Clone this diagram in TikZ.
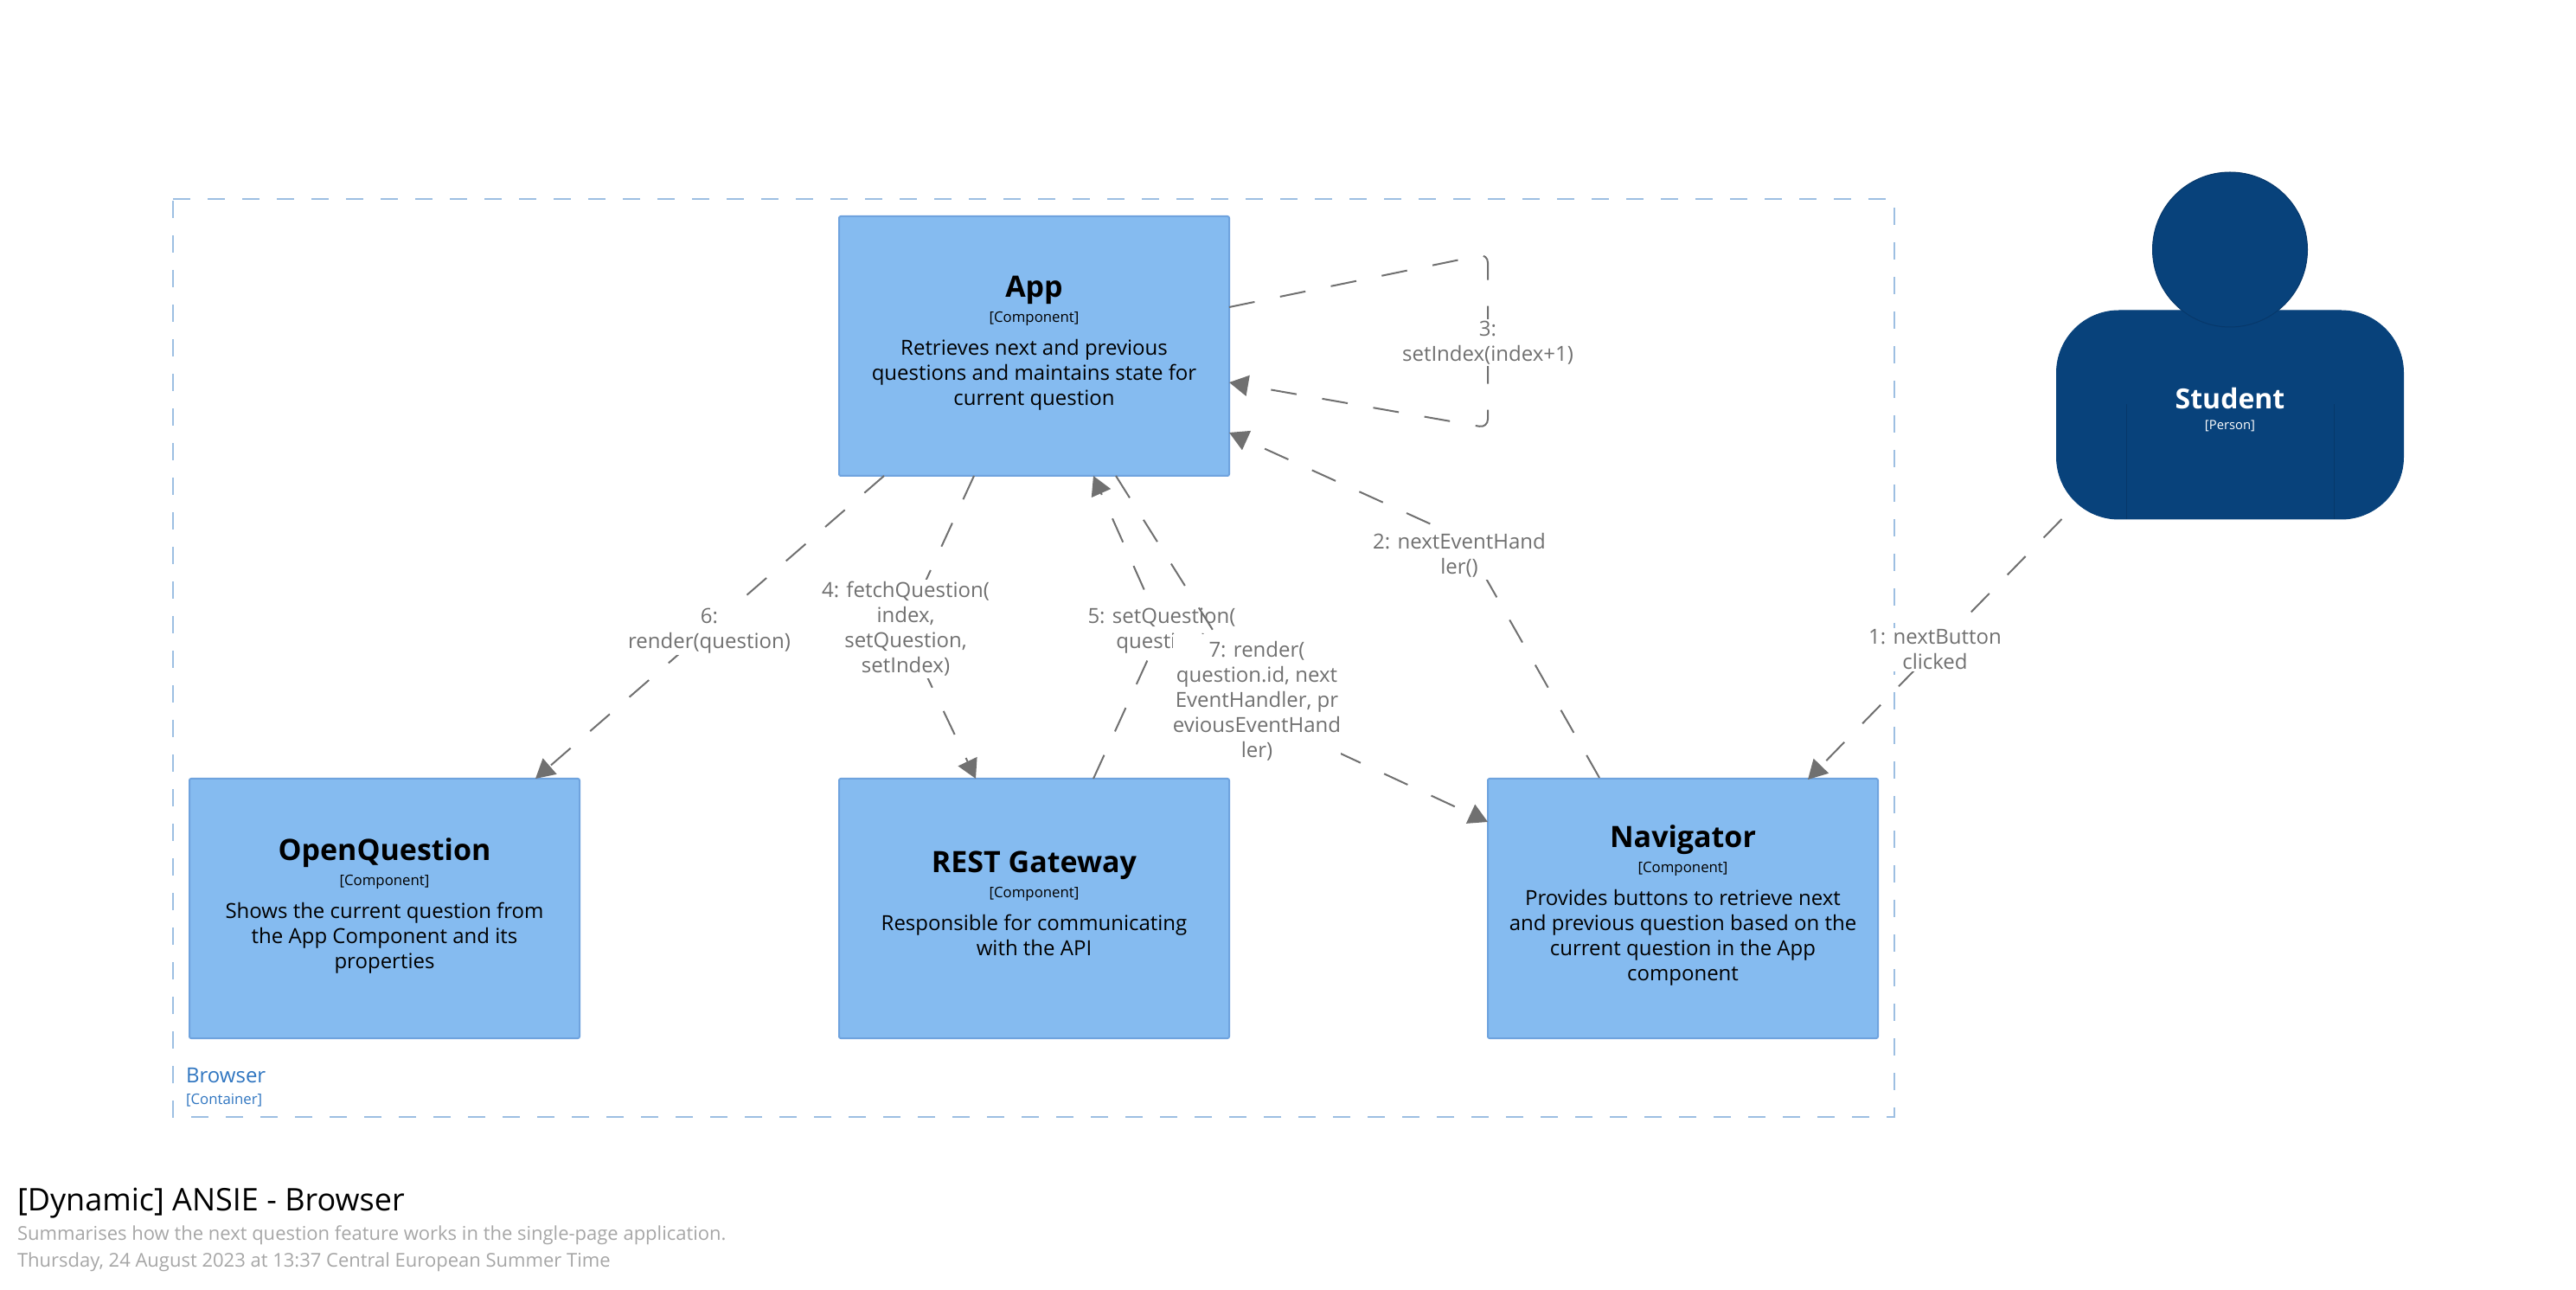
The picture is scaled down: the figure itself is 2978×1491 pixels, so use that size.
\documentclass[tikz,border=0pt]{standalone}
\usepackage{fontspec}
\setmainfont{Open Sans}
\usetikzlibrary{arrows.meta,calc}
\definecolor{compfill}{HTML}{85BBF0}
\definecolor{compline}{HTML}{6FA3DE}
\definecolor{personfill}{HTML}{08427B}
\definecolor{personline}{HTML}{07386A}
\definecolor{grouped}{HTML}{9DBFE2}
\definecolor{linkgrey}{HTML}{707070}
\definecolor{browserblue}{HTML}{2F75C0}
\definecolor{subgrey}{HTML}{A6A6A6}
\newcommand{\cname}[1]{{\fontsize{17pt}{20pt}\selectfont\bfseries\rule{0pt}{13pt}#1}}
\newcommand{\cmeta}[1]{{\fontsize{8.4pt}{10pt}\selectfont #1}}
\newcommand{\lastline}{\rule[-6.5pt]{0pt}{6.5pt}}
\newcommand{\bodyfontcmd}{\fontsize{12pt}{14.5pt}\selectfont\lineskiplimit=-30pt\relax}
\tikzset{
  x=0.5pt,y=-0.5pt,
  bodyfont/.style={font=\bodyfontcmd},
  compbox/.style={rectangle,draw=compline,fill=compfill,line width=1pt,rounded corners=1pt,
    minimum width=225.5pt,minimum height=150pt,inner sep=0pt,outer sep=0pt,
    align=center,text=black,bodyfont},
  linklabel/.style={fill=white,inner sep=1pt,align=center,text=linkgrey,bodyfont},
  link/.style={draw=linkgrey,line width=1pt,dash pattern=on 15pt off 15pt,
    -{Triangle[length=11pt,width=12pt,fill=linkgrey]}},
  boundary/.style={draw=grouped,line width=1pt,dash pattern=on 10pt off 10pt},
  caption/.style={anchor=base west,inner sep=0pt,outer sep=0pt},
}
\begin{document}
\begin{tikzpicture}
\useasboundingbox (0,0) rectangle (2978,1491);
% boundary
\draw[boundary] (200,230) -- (2190,230) -- (2190,1291) -- (200,1291) -- cycle;
\node[caption,text=browserblue,font=\fontsize{12pt}{14pt}\selectfont] (browserlabel) at (215,1251) {Browser};
\node[caption,text=browserblue,font=\fontsize{8.4pt}{10pt}\selectfont] (browsermeta) at (215,1276) {[Container]};
% components
\node[compbox] (app) at (1195.5,400) {\cname{App}\\[0pt]\cmeta{[Component]}\\[4.5pt]Retrieves next and previous\\questions and maintains state for\\current question\lastline};
\node[compbox] (open) at (444.5,1050) {\cname{OpenQuestion}\\[0pt]\cmeta{[Component]}\\[4.5pt]Shows the current question from\\the App Component and its\\properties\lastline};
\node[compbox] (rest) at (1195.5,1050) {\cname{REST Gateway}\\[0pt]\cmeta{[Component]}\\[4.5pt]Responsible for communicating\\with the API\lastline};
\node[compbox] (nav) at (1945.5,1050) {\cname{Navigator}\\[0pt]\cmeta{[Component]}\\[4.5pt]Provides buttons to retrieve next\\and previous question based on the\\current question in the App\\component\lastline};
% person
\node[rectangle,draw=personfill,fill=personfill,line width=0.5pt,rounded corners=36pt,
  minimum width=200.5pt,minimum height=120.5pt,inner sep=0pt,outer sep=0pt] (student) at (2578,479.5) {};
\draw[personline,line width=0.5pt] ($(student.south west)+(81,0)$) -- ++(0,-133);
\draw[personline,line width=0.5pt] ($(student.south east)+(-80,0)$) -- ++(0,-133);
\node[circle,draw=personline,fill=personfill,line width=0.5pt,minimum size=89.5pt,inner sep=0pt,outer sep=0pt] (head) at (2578,288.5) {};
\node[align=center,text=white,inner sep=0pt,bodyfont] (studenttext) at (2578,474) {{\fontsize{16pt}{20pt}\selectfont\bfseries Student}\\[-2.5pt]{\fontsize{7.4pt}{9pt}\selectfont [Person]}};
% waypoints
\coordinate (w2) at (1692,623);
\coordinate (w3a) at (1720,293.5);
\coordinate (w3b) at (1720,494.5);
\coordinate (w4) at (1045,726);
\coordinate (w5) at (1343,727);
\coordinate (w7) at (1468,833);
% 1
\draw[link] ($(student.south west)+(6,0)$) -- ($(nav.north east)+(-81,1)$);
\node[linklabel] (l1) at (2237,751) {1: nextButton\\clicked};
% 2
\draw[link] ($(nav.north west)+(129,-1)$) -- (w2) -- ($(app.south east)+(0,-50)$);
\node[linklabel] (l2) at (1687,642) {2: nextEventHand\\ler()};
% 3
\draw[link,rounded corners=5pt] ($(app.north east)+(0,105)$) -- (w3a) -- (w3b) -- ($(app.north east)+(0,192)$);
\node[linklabel] (l3) at (1720,396) {3:\\setIndex(index+1)};
% 4
\draw[link] ($(app.south west)+(156,0)$) -- (w4) -- ($(rest.north west)+(158,0)$);
\node[linklabel] (l4) at (1047,727) {4: fetchQuestion(\\index,\\setQuestion,\\setIndex)};
% 5
\draw[link] ($(rest.north west)+(294,0)$) -- (w5) -- ($(app.south west)+(294,0)$);
\node[linklabel] (l5) at (1343,729) {5: setQuestion(\\question)};
% 6
\draw[link] ($(app.south west)+(52,0)$) -- ($(open.north east)+(-51,0)$);
\node[linklabel] (l6) at (820,729) {6:\\render(question)};
% 7
\draw[link] ($(app.south west)+(320,0)$) -- (w7) -- ($(nav.north west)+(0,50)$);
\node[linklabel,inner ysep=4pt,inner xsep=0pt] (l7) at (1453,810) {7: render(\\question.id, next\\EventHandler, pr\\eviousEventHand\\ler)};
% captions
\node[caption,text=black,font=\fontsize{18pt}{22pt}\selectfont] (title) at (20,1399) {[Dynamic] ANSIE - Browser};
\node[caption,text=subgrey,font=\fontsize{11pt}{14pt}\selectfont] (sub) at (20,1433) {Summarises how the next question feature works in the single-page application.};
\node[caption,text=subgrey,font=\fontsize{11pt}{14pt}\selectfont] (date) at (20,1464) {Thursday, 24 August 2023 at 13:37 Central European Summer Time};
\end{tikzpicture}
\end{document}
